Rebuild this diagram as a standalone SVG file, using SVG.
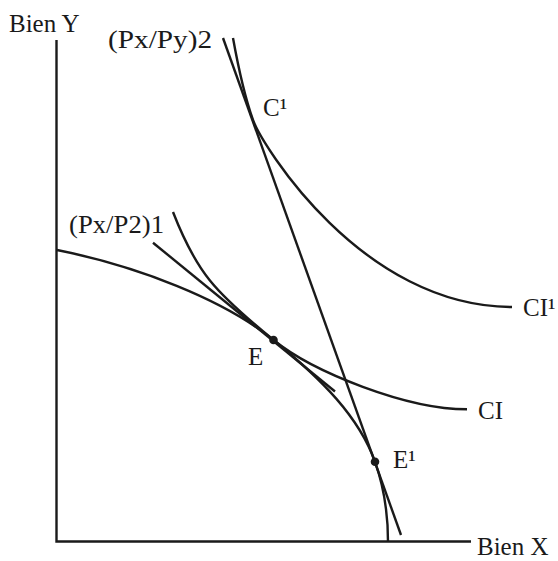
<svg xmlns="http://www.w3.org/2000/svg" width="558" height="561" viewBox="0 0 558 561">
<style>
.ln{fill:none;stroke:#1a1a1a;stroke-width:2.4;stroke-linecap:butt;stroke-linejoin:miter}
.t{font-family:"Liberation Serif","Times New Roman",serif;font-size:25px;fill:#1a1a1a}
.dot{fill:#1a1a1a}
</style>
<rect width="558" height="561" fill="#ffffff"/>
<g id="axes">
<path class="ln" d="M56.5,40 V541.5 H471"/>
</g>
<g id="curves">
<path id="frontier" class="ln" d="M57,250 C137,266 224,299.5 273.5,340 C322,379.5 359,417 375,461.7 C383.9,487 388,515 388,541.5"/>
<path id="ci" class="ln" d="M173,212 C196.4,272 214,291.4 273.5,340 C313.5,372.4 407,409.3 467,409.3"/>
<path id="ci1" class="ln" d="M233,38 C237.5,63 244.1,95 253,120 C261.9,145 362,307 512,307"/>
<path id="line1" class="ln" d="M153,242.7 L335,391.5"/>
<path id="line2" class="ln" d="M223,38 L401,535"/>
</g>
<g id="points">
<circle id="E" class="dot" cx="273.5" cy="340" r="4.3"/>
<circle id="E1" class="dot" cx="375" cy="461.7" r="4.3"/>
</g>
<g id="labels">
<text class="t" x="9" y="32">Bien Y</text>
<text class="t" x="108" y="48" textLength="104" lengthAdjust="spacingAndGlyphs">(Px/Py)2</text>
<text class="t" x="263" y="116">C¹</text>
<text class="t" x="69" y="233" textLength="95" lengthAdjust="spacingAndGlyphs">(Px/P2)1</text>
<text class="t" x="248" y="365">E</text>
<text class="t" x="393" y="468">E¹</text>
<text class="t" x="523" y="316">CI¹</text>
<text class="t" x="478" y="419">CI</text>
<text class="t" x="477" y="555">Bien X</text>
</g>
</svg>
